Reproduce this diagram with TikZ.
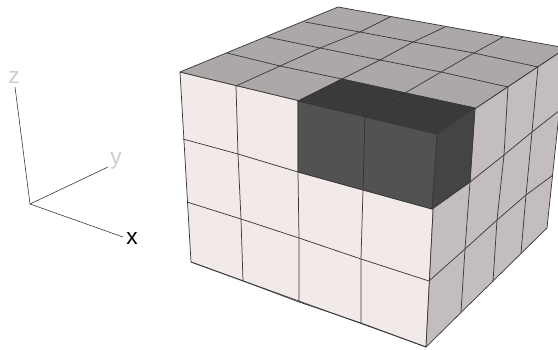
\documentclass[tikz,border=0pt]{standalone}
\usepackage{fontspec}
\setmainfont{Liberation Sans}
\usepackage{xcolor}
\definecolor{frontcol}{HTML}{F2E9E9}
\definecolor{topcol}{HTML}{ACA8A8}
\definecolor{sidecol}{HTML}{C4BDBD}
\definecolor{darkfront}{HTML}{525252}
\definecolor{darktop}{HTML}{3A3A3A}
\definecolor{darkside}{HTML}{444444}
\definecolor{edgecol}{HTML}{3A3A3A}
\usetikzlibrary{positioning}

\begin{document}
\begin{tikzpicture}[
    x=0.75pt, y=-0.75pt,
    face/.style={draw=edgecol, line width=0.55pt, line join=round},
    gridline/.style={draw=edgecol, line width=0.55pt},
    axisline/.style={draw=edgecol, line width=0.45pt},
    axislabel/.style={font=\fontsize{17}{17}\selectfont, inner sep=0pt}
]
\useasboundingbox (0,0) rectangle (558,350);
\clip (0,0) rectangle (558,350);

% axes
\coordinate (origin) at (30,204);
\node[axislabel, color=black!20] (zlabel) at (14,78) {z};
\node[axislabel, color=black!20] (ylabel) at (116,161) {y};
\node[axislabel, color=black] (xlabel) at (132,239) {x};
\coordinate (zend) at (15,87);
\coordinate (yend) at (108,167);
\coordinate (xend) at (123,237);
\draw[axisline] (origin) -- (zend);
\draw[axisline] (origin) -- (yend);
\draw[axisline] (origin) -- (xend);

% front face points
\foreach \name/\px/\py in {
    f00/180/72, f10/236/86, f20/298/101, f30/365/117, f40/437/134,
    f01/183/139, f11/238/154, f21/298/172, f31/363/190, f41/432/209,
    f02/187/202, f12/241/219, f22/299/238, f32/361/259, f42/429/281,
    f03/191/262, f13/243/281, f23/299/302, f33/361/323, f43/426/347}
    \coordinate (\name) at (\px,\py);

% right face points
\foreach \name/\px/\py in {
    r10/475/108, r20/508/87, r30/538/67, r40/566/48,
    r11/470/182, r21/504/155, r31/532/132, r41/560/110,
    r12/465/249, r22/497/220, r32/526/195, r42/553/175,
    r13/461/312, r23/493/282, r33/521/253, r43/547/228}
    \coordinate (\name) at (\px,\py);

% top face points
\foreach \name/\px/\py in {
    t01/227/53, t02/267/37, t03/305/22, t04/338/7,
    t11/280/66, t12/320/48, t13/360/32, t14/390/17,
    t21/342/79, t22/380/60, t23/413/42, t24/445/27,
    t31/405/93, t32/441/72, t33/474/53, t34/503/37}
    \coordinate (\name) at (\px,\py);

% faces
\draw[face, fill=frontcol] (f00) -- (f40) -- (f43) -- (f03) -- cycle;
\draw[face, fill=sidecol] (f40) -- (r40) -- (r43) -- (f43) -- cycle;
\draw[face, fill=topcol] (f00) -- (t04) -- (r40) -- (f40) -- cycle;

% grid lines
\foreach \i in {1,2,3} {
    \draw[gridline] (f\i0) -- (f\i1) -- (f\i2) -- (f\i3);
    \draw[gridline] (r\i0) -- (r\i1) -- (r\i2) -- (r\i3);
    \draw[gridline] (f0\i) -- (f1\i) -- (f2\i) -- (f3\i) -- (f4\i);
    \draw[gridline] (f\i0) -- (t\i1) -- (t\i2) -- (t\i3) -- (t\i4);
    \draw[gridline] (t0\i) -- (t1\i) -- (t2\i) -- (t3\i) -- (r\i0);
}
\draw[gridline] (f41) -- (r11) -- (r21) -- (r31) -- (r41);
\draw[gridline] (f42) -- (r12) -- (r22) -- (r32) -- (r42);

% dark block
\draw[face, fill=darkfront] (f20) -- (f40) -- (f41) -- (f21) -- cycle;
\draw[face, fill=darkside] (f40) -- (r10) -- (r11) -- (f41) -- cycle;
\draw[face, fill=darktop] (f20) -- (f40) -- (r10) -- (t21) -- cycle;
\draw[gridline, draw=black!80] (f30) -- (f31);
\draw[gridline, draw=black!80] (f30) -- (t31);
\end{tikzpicture}
\end{document}
